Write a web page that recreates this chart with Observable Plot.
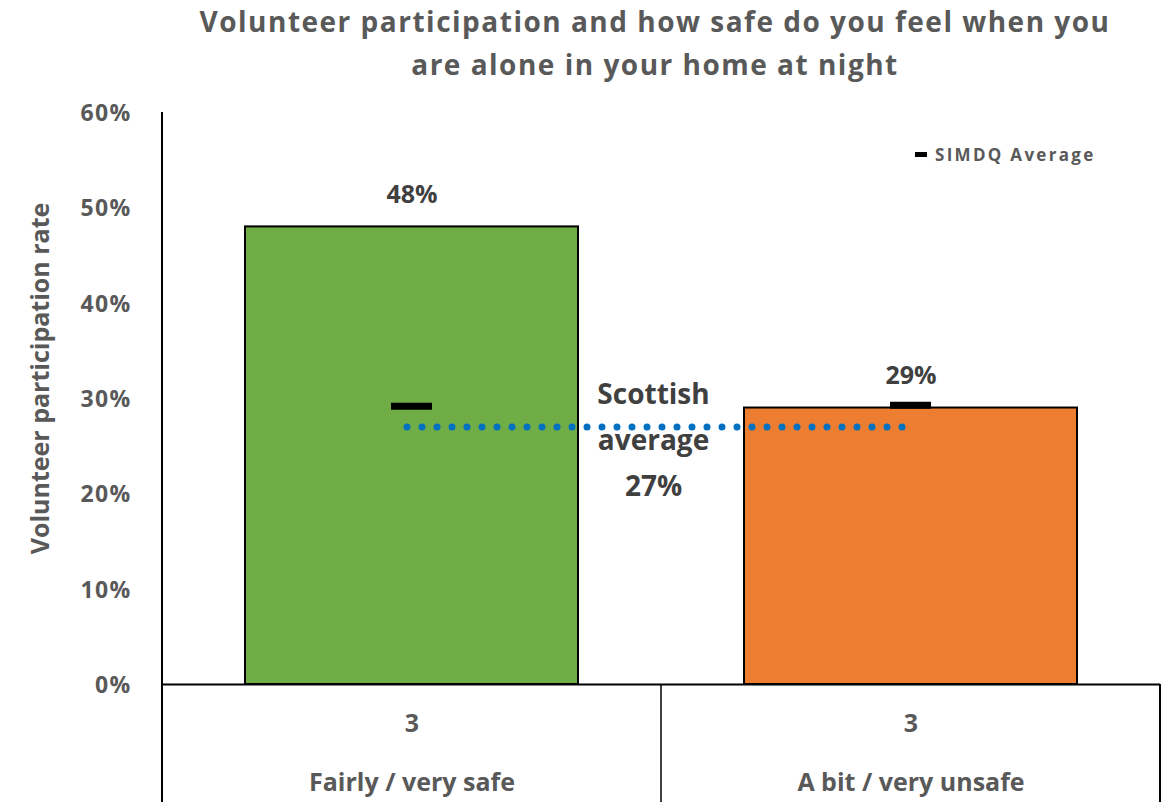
<!DOCTYPE html>
<html>
<head>
<meta charset="utf-8">
<script src="https://cdn.jsdelivr.net/npm/d3@7"></script>
<script src="https://cdn.jsdelivr.net/npm/@observablehq/plot@0.6"></script>
<style>
  html, body { margin: 0; padding: 0; background: #fff; }
  #wrap { position: relative; width: 1163px; height: 802px; overflow: hidden; font-family: 'Open Sans', sans-serif; }
  #title { margin-left: 150px; width: 1010px; height: 90px; text-align: center; font-size: 28px; line-height: 43px; font-weight: 700; color: #595959; letter-spacing: 1.5px; }
  #legend { position: absolute; left: 915px; top: 143px; font-size: 17px; font-weight: 700; color: #595959; display: flex; align-items: center; letter-spacing: 2.3px; }
  #legend .sw { display: inline-block; width: 12px; height: 5px; background: #000; margin-right: 8px; }
  g[aria-label="simdq"] { filter: drop-shadow(1px 3px 2px rgba(0,0,0,0.35)); }
  g[aria-label="scottish"] { filter: drop-shadow(1px 3px 2px rgba(0,0,0,0.25)); }
  g[aria-label="bars"] { filter: drop-shadow(1px 2px 2px rgba(0,0,0,0.2)); }
  g[aria-label="y-axis tick label"] text { letter-spacing: 1.3px; }
  g[aria-label="ylabel"] text { letter-spacing: 1px; }
  g[aria-label="values"] text { letter-spacing: 0.5px; }
  g[aria-label="scottish-label"] text { letter-spacing: 1px; }
  g[aria-label="table"] text { letter-spacing: 1px; }
</style>
</head>
<body>
<div id="wrap">
  <div id="title">Volunteer participation and how safe do you feel when you<br>are alone in your home at night</div>
  <div id="chart"></div>
  <div id="legend"><span class="sw"></span>SIMDQ Average</div>
</div>
<script>
const categories = ["Fairly / very safe", "A bit / very unsafe"];
const counts = ["3", "3"];
const participation = [0.48, 0.29];
const simdqAverage = [0.292, 0.293];
const scottishAverage = 0.27;
const yTicks = [0, 0.1, 0.2, 0.3, 0.4, 0.5, 0.6];
const barColors = ["#70AD47", "#ED7D31"];

const data = categories.map((c, i) => ({cat: c, value: participation[i], simdq: simdqAverage[i], count: counts[i]}));
const pct = d3.format(".0%");

const plot = Plot.plot({
  width: 1163,
  height: 712,
  marginTop: 22,
  marginBottom: 118,
  marginLeft: 162,
  marginRight: 3,
  style: {fontFamily: "'Open Sans', sans-serif", fontSize: "22px", fontWeight: "bold", color: "#595959", background: "white", overflow: "visible"},
  x: {domain: categories, paddingInner: 1/3, paddingOuter: 1/6, axis: null},
  y: {domain: [0, 0.6]},
  color: {domain: categories, range: barColors},
  marks: [
    Plot.barY(data, {x: "cat", y: "value", fill: "cat", stroke: "black", strokeWidth: 2, ariaLabel: "bars"}),
    Plot.link([scottishAverage], {x1: () => categories[0], x2: () => categories[1], y1: d => d, y2: d => d, dx: -5, stroke: "#0070C0", strokeWidth: 7, strokeDasharray: "0 15", strokeLinecap: "round", ariaLabel: "scottish"}),
    Plot.tickY(data, {x: "cat", y: "simdq", stroke: "black", strokeWidth: 7, insetLeft: 146, insetRight: 146, ariaLabel: "simdq"}),
    Plot.ruleY([0], {stroke: "black", strokeWidth: 2}),
    Plot.axisY({ticks: yTicks, tickFormat: pct, tickSize: 0, tickPadding: 31, label: null, fontSize: 23, dy: 1}),
    Plot.text(["Volunteer participation rate"], {frameAnchor: "left", textAnchor: "middle", rotate: -90, dx: -122, dy: -20, fontSize: 25, fill: "#595959", ariaLabel: "ylabel"}),
    Plot.text(data, {x: "cat", y: "value", text: d => pct(d.value), dy: -32, fontSize: 25, fill: "#404040", ariaLabel: "values"}),
    Plot.text([scottishAverage], {frameAnchor: "middle", y: d => d, text: d => `Scottish\naverage\n${pct(d)}`, dx: -8, dy: 8, lineHeight: 1.65, fontSize: 28, fill: "#404040", ariaLabel: "scottish-label"}),
    Plot.text(data, {x: "cat", frameAnchor: "bottom", text: "count", dy: 47, fontSize: 25, fill: "#595959", ariaLabel: "table"}),
    Plot.text(data, {x: "cat", frameAnchor: "bottom", text: "cat", dy: 106, fontSize: 25, fill: "#595959", ariaLabel: "table"})
  ]
});
document.getElementById("chart").appendChild(plot);

// table grid / axis line derived from scales
const xs = plot.scale("x"), ys = plot.scale("y");
const left = xs.range[0], right = xs.range[1];
const mid = xs.apply(categories[1]) - (xs.step - xs.bandwidth) / 2;
const y0 = ys.apply(0), yTop = ys.apply(0.6);
const svg = d3.select(plot);
const g = svg.append("g").attr("stroke", "black").attr("stroke-width", 2);
g.append("line").attr("x1", left).attr("x2", left).attr("y1", yTop).attr("y2", 712);
g.append("line").attr("x1", mid).attr("x2", mid).attr("y1", y0).attr("y2", 712).attr("stroke-width", 1.5);
g.append("line").attr("x1", right).attr("x2", right).attr("y1", y0).attr("y2", 712);
</script>
</body>
</html>
